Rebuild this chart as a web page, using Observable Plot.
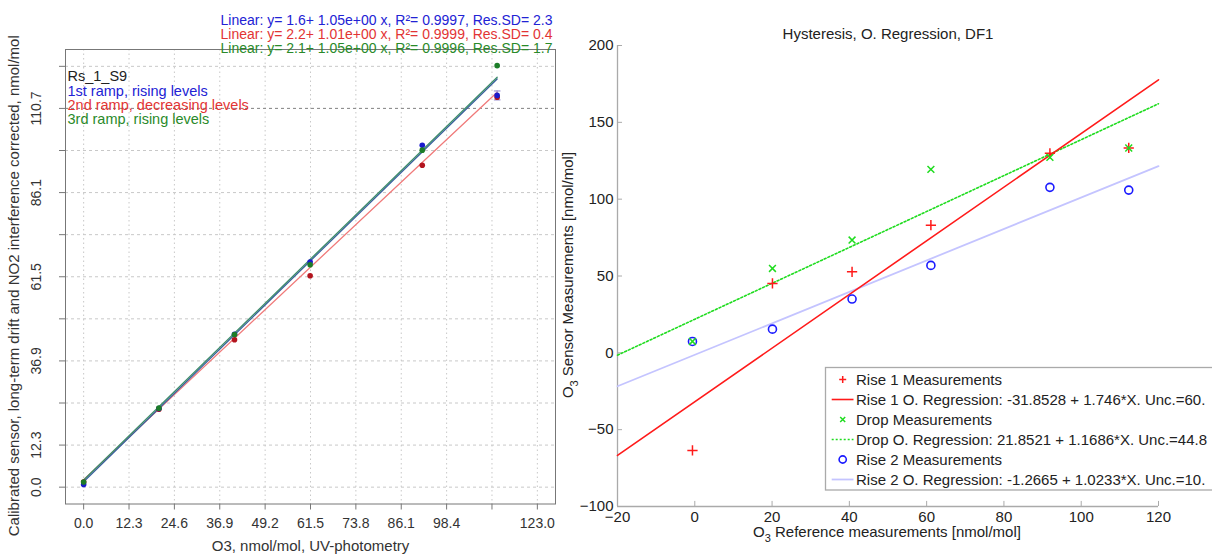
<!DOCTYPE html>
<html><head><meta charset="utf-8">
<script src="https://cdn.jsdelivr.net/npm/d3@7"></script>
<script src="https://cdn.jsdelivr.net/npm/@observablehq/plot@0.6"></script>
<style>
body{margin:0;background:#fff;overflow:hidden;width:1224px;height:560px}
#wrap{display:flex;width:1224px;height:560px}
#left{width:560px;height:560px;flex:none}
#right{width:652px;height:560px;overflow:hidden;flex:none}
</style></head><body><div id="wrap"><div id="left"></div><div id="right"></div></div>
<script>
// ---------- Left panel data ----------
const refLevels = [0, 20.4, 40.9, 61.4, 91.8, 112.1];
const ramp1 = [0.8, 23.0, 44.7, 65.8, 99.9, 114.5];
const ramp2 = [1.5, 22.8, 43.1, 61.8, 94.1, 114.0];
const ramp3 = [1.5, 23.1, 44.6, 65.0, 98.5, 123.2];
const ramp1ErrLow = [113.2];
const ramp1ErrHigh = [115.8];
const rampNames = ["1st ramp, rising levels", "2nd ramp, decreasing levels", "3rd ramp, rising levels"];
const sensorName = "Rs_1_S9";
const fitIntercepts = [1.6, 2.2, 2.1];
const fitSlopes = [1.05, 1.01, 1.05];
const fitR2 = ["0.9997", "0.9999", "0.9996"];
const fitResSD = ["2.3", "0.4", "1.7"];
const leftTicks = [0, 12.3, 24.6, 36.9, 49.2, 61.5, 73.8, 86.1, 98.4, 110.7, 123.0];
const leftXLabels = ["0.0", "12.3", "24.6", "36.9", "49.2", "61.5", "73.8", "86.1", "98.4", "", "123.0"];
const leftYLabels = ["0.0", "12.3", "", "36.9", "", "61.5", "", "86.1", "", "110.7", ""];
const leftXTitle = "O3, nmol/mol, UV-photometry";
const leftYTitle = "Calibrated sensor, long-term drift and NO2 interference corrected, nmol/mol";

// ---------- Right panel data ----------
const refMeas = [-0.6, 20.1, 40.7, 61.1, 91.9, 112.3];
const rise1 = [-63.5, 45.2, 52.7, 83.1, 129.8, 133.3];
const drop = [7.4, 54.9, 73.4, 119.4, 127.2, 133.3];
const rise2 = [7.4, 15.4, 35.0, 56.9, 107.7, 105.9];
const oregIntercepts = [-31.8528, 21.8521, -1.2665];
const oregSlopes = [1.746, 1.1686, 1.0233];
const oregUnc = ["60.", "44.8", "10."];
const oregNames = ["Rise 1", "Drop", "Rise 2"];
const rightXTicks = [-20, 0, 20, 40, 60, 80, 100, 120];
const rightYTicks = [-100, -50, 0, 50, 100, 150, 200];
const rightTitle = "Hysteresis, O. Regression, DF1";

const FONT = "'Liberation Sans', Arial, Helvetica, sans-serif";

// ---------- Left panel ----------
const cBlue = "#2222d4", cRed = "#e23434", cGreen = "#2a8a2a";
const ptBlue = "#1a1acc", ptRed = "#b3141e", ptGreen = "#1c7d28";
const lnBlue = "#3a5fa0", lnRed = "#f07a7a", lnGreen = "#3d8c6a";

const seriesL = [ramp1, ramp2, ramp3];
const fitLines = seriesL.map((s, k) => [refLevels[0], refLevels[refLevels.length - 1]].map(x => ({x, y: fitIntercepts[k] + fitSlopes[k] * x})));
const pts = (arr) => refLevels.map((x, i) => ({x, y: arr[i]}));
const eqText = fitIntercepts.map((b, k) => `Linear: y= ${b}+ ${fitSlopes[k].toFixed(2)}e+00 x, R²= ${fitR2[k]}, Res.SD= ${fitResSD[k]}`);
const eqColors = [cBlue, cRed, cGreen];

const left = Plot.plot({
  width: 560, height: 560,
  marginLeft: 65, marginRight: 5, marginTop: 49, marginBottom: 56.5,
  x: {domain: [-4.92, 127.92]},
  y: {domain: [-4.92, 127.92]},
  style: {fontFamily: FONT, fontSize: "14px", color: "#333", background: "white"},
  marks: [
    Plot.gridX(leftTicks, {stroke: "#c8c8c8", strokeOpacity: 1, strokeDasharray: "1.5,3"}),
    Plot.gridY(leftTicks, {stroke: "#c8c8c8", strokeOpacity: 1, strokeDasharray: "3,3"}),
    Plot.ruleY([110.7], {stroke: "#8a8a8a", strokeDasharray: "3,3"}),
    Plot.frame({stroke: "#777"}),
    Plot.axisX(leftTicks, {tickSize: 6, tickPadding: 8, stroke: "#777", fill: "#333", fontSize: 14, label: null,
      tickFormat: d => leftXLabels[leftTicks.indexOf(d)]}),
    Plot.axisY(leftTicks, {tickSize: 6, stroke: "#777", label: null, tickFormat: () => ""}),
    Plot.text(leftTicks.filter((d, i) => leftYLabels[i] !== ""), {y: d => d, frameAnchor: "left", dx: -29, rotate: -90,
      textAnchor: "middle", text: d => leftYLabels[leftTicks.indexOf(d)], fontSize: 14, fill: "#333"}),
    Plot.text([leftXTitle], {frameAnchor: "bottom", dy: 47, fontSize: 15, fill: "#333"}),
    Plot.text([leftYTitle], {frameAnchor: "left", dx: -51, dy: 9, rotate: -90, textAnchor: "middle", fontSize: 15, fill: "#333"}),
    ...eqText.map((t, k) => Plot.text([t], {frameAnchor: "top-right", dx: -3, dy: -34 + 14 * k, fontSize: 14, fill: eqColors[k]})),
    Plot.text([sensorName], {frameAnchor: "top-left", dx: 2, dy: 21.7, fontSize: 14.5, fill: "#222", textAnchor: "start"}),
    ...rampNames.map((t, k) => Plot.text([t], {frameAnchor: "top-left", dx: 2, dy: 36 + 14 * k, fontSize: 14.5, fill: eqColors[k], textAnchor: "start"})),
    Plot.line(fitLines[1], {x: "x", y: "y", stroke: lnRed, strokeWidth: 1.3}),
    Plot.line(fitLines[0], {x: "x", y: "y", stroke: lnBlue, strokeWidth: 1.3}),
    Plot.line(fitLines[2], {x: "x", y: "y", stroke: lnGreen, strokeWidth: 1.3}),
    Plot.ruleX([0], {x: () => refLevels[5], y1: () => ramp1ErrLow[0], y2: () => ramp1ErrHigh[0], stroke: "#9a90d0", strokeWidth: 1.2}),
    Plot.link([0, 1], {x1: () => refLevels[5] - 0.9, x2: () => refLevels[5] + 0.9, y1: (d, i) => [ramp1ErrLow[0], ramp1ErrHigh[0]][i], y2: (d, i) => [ramp1ErrLow[0], ramp1ErrHigh[0]][i], stroke: "#9a90d0", strokeWidth: 1.2}),
    Plot.dot(pts(ramp2), {x: "x", y: "y", r: 2.8, fill: ptRed}),
    Plot.dot(pts(ramp1), {x: "x", y: "y", r: 2.8, fill: ptBlue}),
    Plot.dot(pts(ramp3), {x: "x", y: "y", r: 2.8, fill: ptGreen})
  ]
});
document.getElementById("left").appendChild(left);

// ---------- Right panel ----------
const rRed = "#ff1a1a", rGreen = "#1fdc1f", rBlue = "#1a1aff", rLav = "#c4c4ff";
const rPts = (arr) => refMeas.map((x, i) => ({x, y: arr[i]}));
const oLines = oregIntercepts.map((b, k) => [-20, 120].map(x => ({x, y: b + oregSlopes[k] * x})));

const right = Plot.plot({
  width: 652, height: 560,
  marginLeft: 57, marginRight: 54, marginTop: 45, marginBottom: 54,
  x: {domain: [-20, 120]},
  y: {domain: [-100, 200]},
  style: {fontFamily: FONT, fontSize: "15px", color: "#222", background: "white"},
  marks: [
    Plot.ruleY([-100], {stroke: "#aaa", strokeWidth: 1.3}),
    Plot.ruleX([-20], {stroke: "#aaa", strokeWidth: 1.3}),
    Plot.ruleX(rightXTicks, {x: d => d, y1: -100, y2: -100 + 3.3, stroke: "#aaa"}),
    Plot.ruleY(rightYTicks, {y: d => d, x1: -20, x2: -20 + 1.3, stroke: "#aaa"}),
    Plot.axisX(rightXTicks, {tickSize: 0, tickPadding: 5, label: null, fontSize: 15, fill: "#222"}),
    Plot.axisY(rightYTicks, {tickSize: 0, tickPadding: 4, label: null, fontSize: 15, fill: "#222"}),
    Plot.text([rightTitle], {frameAnchor: "top", dy: -17, fontSize: 15, fill: "#222"}),
    Plot.line(oLines[2], {x: "x", y: "y", stroke: rLav, strokeWidth: 1.8}),
    Plot.line(oLines[1], {x: "x", y: "y", stroke: rGreen, strokeWidth: 1.6, strokeDasharray: "2,2"}),
    Plot.line(oLines[0], {x: "x", y: "y", stroke: rRed, strokeWidth: 1.6}),
    Plot.dot(rPts(rise2), {x: "x", y: "y", r: 4, stroke: rBlue, strokeWidth: 1.6, fill: "none"}),
    Plot.dot(rPts(rise1), {x: "x", y: "y", symbol: "plus", r: 3.4, stroke: rRed, strokeWidth: 1.5}),
    Plot.dot(rPts(drop), {x: "x", y: "y", symbol: "times", r: 3.2, stroke: rGreen, strokeWidth: 1.5})
  ]
});
document.getElementById("right").appendChild(right);

// axis titles with subscripts and legend (pixel layout)
const rs = d3.select(right);
const yt = rs.append("text").attr("transform", "translate(13,275) rotate(-90)")
  .attr("text-anchor", "middle").attr("font-family", FONT).attr("font-size", 15).attr("fill", "#222");
yt.append("tspan").text("O");
yt.append("tspan").text("3").attr("font-size", 11).attr("dy", 5);
yt.append("tspan").text(" Sensor Measurements [nmol/mol]").attr("dy", -5);
const xt = rs.append("text").attr("x", 327).attr("y", 537)
  .attr("text-anchor", "middle").attr("font-family", FONT).attr("font-size", 15).attr("fill", "#222");
xt.append("tspan").text("O");
xt.append("tspan").text("3").attr("font-size", 11).attr("dy", 5);
xt.append("tspan").text(" Reference measurements [nmol/mol]").attr("dy", -5);

const lg = rs.append("g").attr("font-family", FONT).attr("font-size", 15).attr("fill", "#222").attr("text-anchor", "start");
lg.append("rect").attr("x", 265.5).attr("y", 367.5).attr("width", 500).attr("height", 122.5)
  .attr("fill", "white").attr("stroke", "#aaa").attr("stroke-width", 1.3);
const legItems = [
  {label: `${oregNames[0]} Measurements`, kind: "plus", color: rRed},
  {label: `${oregNames[0]} O. Regression: ${oregIntercepts[0]} + ${oregSlopes[0]}*X. Unc.=${oregUnc[0]}`, kind: "line", color: rRed},
  {label: `${oregNames[1]} Measurements`, kind: "times", color: rGreen},
  {label: `${oregNames[1]} O. Regression: ${oregIntercepts[1]} + ${oregSlopes[1]}*X. Unc.=${oregUnc[1]}`, kind: "dash", color: rGreen},
  {label: `${oregNames[2]} Measurements`, kind: "circle", color: rBlue},
  {label: `${oregNames[2]} O. Regression: ${oregIntercepts[2]} + ${oregSlopes[2]}*X. Unc.=${oregUnc[2]}`, kind: "lav", color: rLav}
];
legItems.forEach((it, i) => {
  const cy = 379.5 + 20 * i, cx = 282.7;
  if (it.kind === "plus") {
    lg.append("path").attr("d", `M${cx-3.5},${cy}H${cx+3.5}M${cx},${cy-3.5}V${cy+3.5}`).attr("stroke", it.color).attr("stroke-width", 1.5);
  } else if (it.kind === "times") {
    lg.append("path").attr("d", `M${cx-2.5},${cy-2.5}L${cx+2.5},${cy+2.5}M${cx-2.5},${cy+2.5}L${cx+2.5},${cy-2.5}`).attr("stroke", it.color).attr("stroke-width", 1.5);
  } else if (it.kind === "circle") {
    lg.append("circle").attr("cx", cx).attr("cy", cy).attr("r", 3.6).attr("fill", "none").attr("stroke", it.color).attr("stroke-width", 1.6);
  } else {
    lg.append("line").attr("x1", 271.7).attr("x2", 293.5).attr("y1", cy).attr("y2", cy).attr("stroke", it.color)
      .attr("stroke-width", it.kind === "lav" ? 1.8 : 1.6).attr("stroke-dasharray", it.kind === "dash" ? "2,2" : null);
  }
  lg.append("text").attr("x", 296).attr("y", cy).attr("dy", "0.35em").text(it.label);
});
</script>
</body></html>
